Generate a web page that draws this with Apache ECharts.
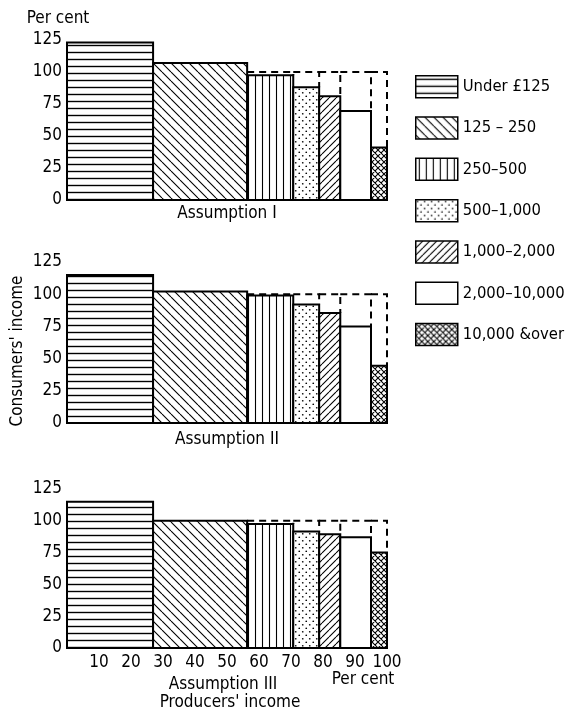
<!DOCTYPE html>
<html>
<head>
<meta charset="utf-8">
<script src="https://cdn.jsdelivr.net/npm/echarts@6/dist/echarts.min.js"></script>
<style>html,body{margin:0;padding:0;background:#fff;}#c{width:573px;height:712px;}</style>
</head>
<body>
<div id="c"></div>
<script>
// ---- data ----
const categories = ['Under £125', '125 – 250', '250–500', '500–1,000', '1,000–2,000', '2,000–10,000', '10,000 &over'];
const producersShare = [26.9, 29.4, 14.4, 8.1, 6.6, 9.6, 5.0];   // width of each bar (% of producers' income)
const consumersA1 = [123, 107, 97.5, 88, 81, 69.5, 41];
const consumersA2 = [115, 102, 99, 92, 85.5, 75, 44.5];
const consumersA3 = [115, 100, 97.5, 91.5, 89.5, 87, 75];
const panelTitles = ['Assumption I', 'Assumption II', 'Assumption III'];
const xTickLabels = [10, 20, 30, 40, 50, 60, 70, 80, 90, 100];
const parity = 100;

// ---- styling ----
const FONT = "'DejaVu Sans Condensed','Liberation Sans Narrow','DejaVu Sans',sans-serif";
function tile(w, h, draw) {
  const c = document.createElement('canvas'); c.width = w; c.height = h;
  const g = c.getContext('2d'); g.fillStyle = '#fff'; g.fillRect(0, 0, w, h);
  g.strokeStyle = '#000'; g.fillStyle = '#000'; draw(g, w, h);
  return { image: c, repeat: 'repeat' };
}
const patterns = [
  tile(8, 7, g => { g.lineWidth = 1.4; g.beginPath(); g.moveTo(0, 3.5); g.lineTo(8, 3.5); g.stroke(); }),
  tile(9, 9, g => { g.lineWidth = 1.1; g.beginPath(); [-9, 0, 9].forEach(k => { g.moveTo(k, 0); g.lineTo(k + 9, 9); }); g.stroke(); }),
  tile(7, 8, g => { g.lineWidth = 1.1; g.beginPath(); g.moveTo(3.5, 0); g.lineTo(3.5, 8); g.stroke(); }),
  tile(7, 7, g => { [[1.75, 1.75], [5.25, 5.25]].forEach(p => { g.beginPath(); g.arc(p[0], p[1], 0.85, 0, Math.PI * 2); g.fill(); }); }),
  tile(7, 7, g => { g.lineWidth = 1.1; g.beginPath(); [-7, 0, 7].forEach(k => { g.moveTo(k, 7); g.lineTo(k + 7, 0); }); g.stroke(); }),
  '#ffffff',
  tile(6, 6, g => { g.lineWidth = 1.1; g.beginPath(); [-6, 0, 6].forEach(k => { g.moveTo(k, 0); g.lineTo(k + 6, 6); g.moveTo(k, 6); g.lineTo(k + 6, 0); }); g.stroke(); })
];

const panels = [consumersA1, consumersA2, consumersA3];
const grids = [
  { left: 67, width: 320, top: 40, height: 160 },
  { left: 67, width: 320, top: 262, height: 161 },
  { left: 67, width: 320, top: 489, height: 159 }
];

const starts = []; let acc = 0;
producersShare.forEach(w => { starts.push(acc); acc += w; });

const xAxes = [], yAxes = [], series = [];
panels.forEach((vals, p) => {
  xAxes.push({
    type: 'value', gridIndex: p, min: 0, max: 100, interval: 10,
    axisLine: { show: true, lineStyle: { color: '#000', width: 2 } },
    axisTick: { show: false }, splitLine: { show: false },
    axisLabel: {
      show: p === 2, margin: 6, color: '#000', fontFamily: FONT, fontSize: 17,
      formatter: v => xTickLabels.indexOf(v) >= 0 ? String(v) : ''
    }
  });
  yAxes.push({
    type: 'value', gridIndex: p, min: 0, max: 125, interval: 25,
    axisLine: { show: false }, axisTick: { show: false }, splitLine: { show: false },
    axisLabel: { margin: 5, color: '#000', fontFamily: FONT, fontSize: 17 }
  });
  categories.forEach((name, i) => {
    series.push({
      type: 'custom', name: name, xAxisIndex: p, yAxisIndex: p, silent: true, z: 2,
      itemStyle: { color: patterns[i], borderColor: '#000', borderWidth: 2 },
      encode: { x: [0, 1], y: 2 },
      data: [[starts[i], starts[i] + producersShare[i], vals[i]]],
      renderItem: (params, api) => {
        const a = api.coord([api.value(0), api.value(2)]);
        const b = api.coord([api.value(1), 0]);
        return { type: 'rect', shape: { x: a[0], y: a[1], width: b[0] - a[0], height: b[1] - a[1] },
          style: { fill: patterns[i], stroke: '#000', lineWidth: 2 } };
      }
    });
  });
  const ref = [];
  categories.forEach((n, i) => { if (i >= 2 && vals[i] < parity) ref.push([starts[i], starts[i] + producersShare[i], vals[i], parity]); });
  series.push({
    type: 'custom', name: 'parity' + p, xAxisIndex: p, yAxisIndex: p, silent: true, z: 3,
    encode: { x: [0, 1], y: 2 }, data: ref,
    renderItem: (params, api) => {
      const p1 = api.coord([api.value(0), api.value(3)]);
      const p2 = api.coord([api.value(1), api.value(3)]);
      const p3 = api.coord([api.value(1), api.value(2)]);
      return { type: 'polyline', shape: { points: [p1, p2, p3] },
        style: { stroke: '#000', lineWidth: 2, lineDash: [7, 5], fill: null } };
    }
  });
});

function txt(x, y, s, size, rot) {
  return { type: 'text', x: x, y: y, rotation: rot || 0, silent: true,
    style: { text: s, fill: '#000', font: size + 'px ' + FONT, align: 'center', verticalAlign: 'middle', textAlign: 'center', textVerticalAlign: 'middle' } };
}

const chart = echarts.init(document.getElementById('c'), null, { renderer: 'canvas' });
chart.setOption({
  backgroundColor: '#fff',
  animation: false,
  grid: grids,
  xAxis: xAxes,
  yAxis: yAxes,
  legend: {
    orient: 'vertical', left: 410, top: 70, itemWidth: 42, itemHeight: 22, itemGap: 17.8,
    selectedMode: false, icon: 'rect',
    textStyle: { fontFamily: FONT, fontSize: 16.5, color: '#000' },
    itemStyle: { borderColor: '#000', borderWidth: 1.5 },
    data: categories.slice()
  },
  series: series,
  graphic: [
    txt(58, 19, 'Per cent', 17),
    txt(227, 214, panelTitles[0], 17),
    txt(227, 440, panelTitles[1], 17),
    txt(223, 685, panelTitles[2], 17),
    txt(230, 703, "Producers' income", 17),
    txt(363, 680, 'Per cent', 17),
    txt(18, 351, "Consumers' income", 17, Math.PI / 2)
  ]
});
</script>
</body>
</html>
